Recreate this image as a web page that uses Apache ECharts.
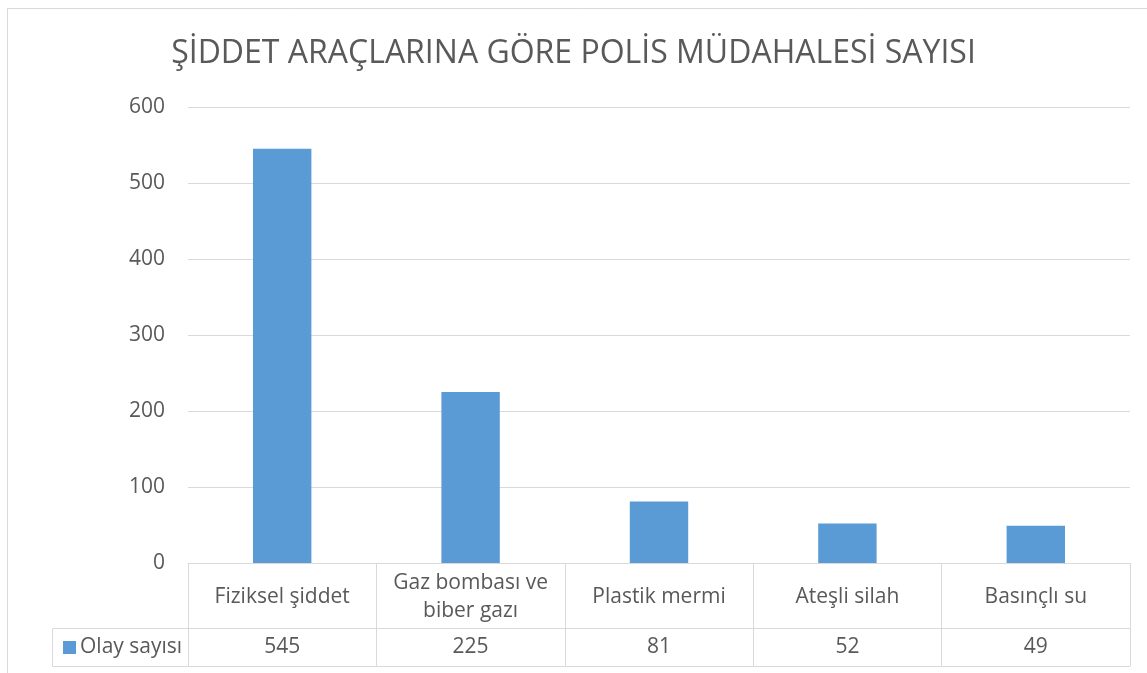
<!DOCTYPE html>
<html>
<head>
<meta charset="utf-8">
<script src="https://cdn.jsdelivr.net/npm/echarts@6/dist/echarts.min.js"></script>
<style>
  html, body { margin: 0; padding: 0; background: #fff; }
  #main { width: 1147px; height: 673px; }
</style>
</head>
<body>
<div id="main"></div>
<script>
const titleText = 'ŞİDDET ARAÇLARINA GÖRE POLİS MÜDAHALESİ SAYISI'
const seriesName = 'Olay sayısı'
const categories = ['Fiziksel şiddet', 'Gaz bombası ve\nbiber gazı', 'Plastik mermi', 'Ateşli silah', 'Basınçlı su']
const values = [545, 225, 81, 52, 49]
const yTicks = { min: 0, max: 600, interval: 100 }

const font = '"Open Sans", sans-serif'
const textColor = '#595959'
const lineColor = '#d9d9d9'

const chart = echarts.init(document.getElementById('main'))
chart.setOption({
  animation: false,
  title: {
    text: titleText,
    left: 'center',
    top: 33,
    textStyle: { fontFamily: font, fontSize: 32, fontWeight: 'normal', color: textColor }
  },
  legend: {
    left: 58,
    top: 632,
    icon: 'rect',
    itemWidth: 13,
    itemHeight: 13,
    itemGap: 4,
    data: [seriesName],
    textStyle: { fontFamily: font, fontSize: 21, color: textColor, padding: [0, 0, 0, -1] }
  },
  grid: { left: 188, right: 17, top: 107, bottom: 110 },
  xAxis: [
    {
      type: 'category',
      data: categories,
      axisLine: { lineStyle: { color: lineColor } },
      axisTick: { show: true, length: 103, lineStyle: { color: lineColor } },
      axisLabel: {
        interval: 0,
        margin: 34,
        verticalAlign: 'middle',
        lineHeight: 28,
        fontFamily: font, fontSize: 21, color: textColor
      }
    },
    {
      type: 'category',
      position: 'bottom',
      offset: 65,
      data: values.map(String),
      axisLine: { show: true, lineStyle: { color: lineColor } },
      axisTick: { show: false },
      axisLabel: {
        interval: 0,
        margin: 19,
        verticalAlign: 'middle',
        fontFamily: font, fontSize: 21, color: textColor
      }
    },
    {
      type: 'category',
      position: 'bottom',
      offset: 103,
      data: categories,
      axisLine: { show: true, lineStyle: { color: lineColor } },
      axisTick: { show: false },
      axisLabel: { show: false }
    }
  ],
  yAxis: {
    type: 'value',
    min: yTicks.min,
    max: yTicks.max,
    interval: yTicks.interval,
    axisLine: { show: false },
    axisTick: { show: false },
    axisLabel: { margin: 23, fontFamily: font, fontSize: 21, color: textColor },
    splitLine: { lineStyle: { color: lineColor, width: 1 } }
  },
  graphic: [
    {
      type: 'rect',
      shape: { x: 7.5, y: 8.5, width: 1200, height: 700 },
      style: { fill: 'none', stroke: lineColor, lineWidth: 1 },
      silent: true
    },
    {
      type: 'polyline',
      shape: { points: [[188, 628.5], [52.5, 628.5], [52.5, 666.5], [188, 666.5]] },
      style: { fill: 'none', stroke: lineColor, lineWidth: 1 },
      silent: true
    }
  ],
  series: [
    {
      name: seriesName,
      type: 'bar',
      xAxisIndex: 0,
      data: values,
      barWidth: '31%',
      itemStyle: { color: '#5b9bd5' }
    }
  ]
})
</script>
</body>
</html>
